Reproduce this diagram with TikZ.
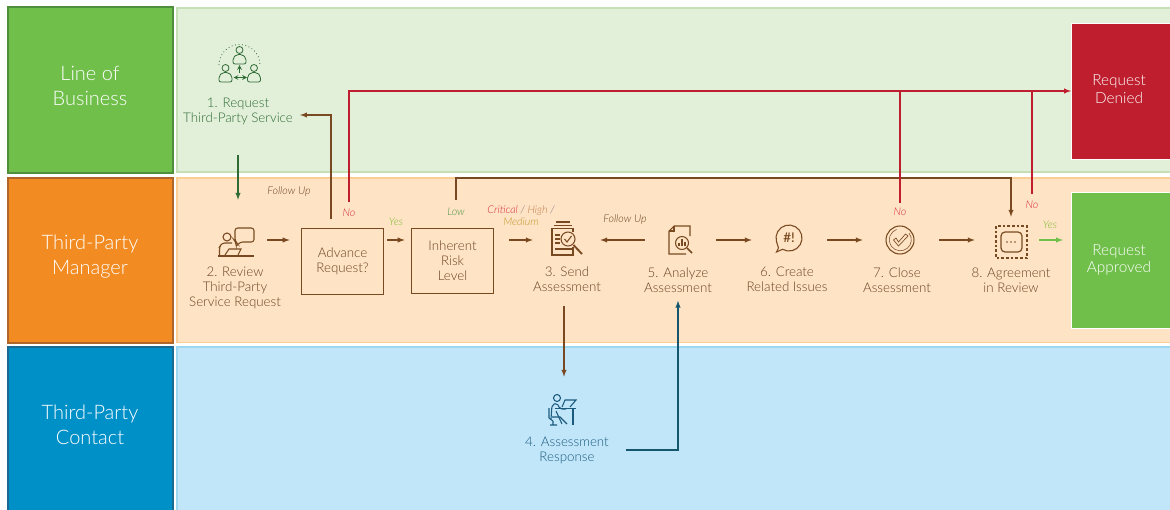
\documentclass[tikz,border=0pt]{standalone}
\usepackage{fontspec}
\setmainfont{Lato Light}[ItalicFont = Lato Light Italic]
\definecolor{lobgreen}{HTML}{70BF4B}
\definecolor{lobedge}{HTML}{4F8E3B}
\definecolor{lobpale}{HTML}{E2EFD9}
\definecolor{lobline}{HTML}{C5E0B4}
\definecolor{tpmorange}{HTML}{F28C22}
\definecolor{tpmedge}{HTML}{B0662A}
\definecolor{tpmpale}{HTML}{FEE3C5}
\definecolor{tpmline}{HTML}{FBCE94}
\definecolor{tpcblue}{HTML}{0090C8}
\definecolor{tpcedge}{HTML}{1A6A92}
\definecolor{tpcpale}{HTML}{C1E6FA}
\definecolor{tpcline}{HTML}{9DD8F2}
\definecolor{denyred}{HTML}{BE1E2D}
\definecolor{flowbrown}{HTML}{794A21}
\definecolor{textbrown}{HTML}{6A4322}
\definecolor{textgreen}{HTML}{2F6B35}
\definecolor{darkgreen}{HTML}{2F6B35}
\definecolor{flowblue}{HTML}{17566F}
\definecolor{textblue}{HTML}{1C5A7D}
\definecolor{tagred}{HTML}{D42A3C}
\definecolor{taggold}{HTML}{BF9628}
\definecolor{taggrey}{HTML}{707070}
\definecolor{tagtan}{HTML}{C07F4C}
\definecolor{tagyes}{HTML}{7DB92F}
\definecolor{taglow}{HTML}{4F9242}
\tikzset{
	lanehead/.style = {anchor = north west, line width = 1.5pt, outer sep = 0pt, inner sep = 0pt, minimum width = 124pt},
	headtext/.style = {align = center, text = white, inner sep = 0pt, font = \fontsize{15}{18.75}\selectfont},
	lanebody/.style = {anchor = north west, line width = 1pt, outer sep = 0pt, inner sep = 0pt, minimum width = 747pt},
	outcome/.style = {anchor = north west, draw = white, outer sep = 0pt, inner sep = 0pt, minimum width = 75pt, minimum height = 102pt},
	outcometext/.style = {align = center, text = white, inner sep = 0pt, font = \fontsize{11.5}{13}\selectfont},
	steplabel/.style = {align = center, inner sep = 0pt, font = \fontsize{10}{11.25}\selectfont},
	decision/.style = {steplabel, draw = flowbrown, text = textbrown, line width = 0.8pt, minimum width = 62pt, minimum height = 49pt},
	iconbox/.style = {inner sep = 0pt, minimum height = 30pt},
	tagtext/.style = {inner sep = 0pt, align = center, font = \fontsize{8}{9}\selectfont\itshape},
	flow/.style = {->, >=latex, flowbrown, line width = 0.8pt},
	denyline/.style = {denyred, line width = 0.8pt},
	icongreen/.style = {darkgreen, line width = 0.6pt},
	iconbrown/.style = {flowbrown, line width = 0.8pt},
	iconblue/.style = {textblue, line width = 0.8pt}
}
\begin{document}
\begin{tikzpicture}[x = 0.75pt, y = -0.75pt]
	\useasboundingbox (0, 0) rectangle (1170, 510);
	\clip (0, 0) rectangle (1170, 510);
	
	%	lanes
	\node[lanebody, draw = lobline, fill = lobpale, minimum height = 123pt] (lobbody) at (177, 8) {};
	\node[lanebody, draw = tpmline, fill = tpmpale, minimum height = 123.5pt] (tpmbody) at (177, 178) {};
	\node[lanebody, draw = tpcline, fill = tpcpale, minimum height = 130pt] (tpcbody) at (177, 347) {};
	\node[lanehead, draw = lobedge, fill = lobgreen, minimum height = 124pt] (lob) at (7.5, 7.5) {};
	\node[lanehead, draw = tpmedge, fill = tpmorange, minimum height = 124pt] (tpm) at (7.5, 178) {};
	\node[lanehead, draw = tpcedge, fill = tpcblue, minimum height = 130pt] (tpc) at (7.5, 347) {};
	\node[headtext] (lobtxt) at (90, 85.5) {Line of\\Business};
	\node[headtext] (tpmtxt) at (90, 257) {Third-Party\\Manager};
	\node[headtext] (tpctxt) at (90, 425) {Third-Party\\Contact};
	
	%	outcomes
	\node[outcome, fill = denyred] (denied) at (1071, 23) {};
	\node[outcome, fill = lobgreen] (approved) at (1071, 192) {};
	\node[outcometext] (deniedtxt) at (1119, 89) {Request\\Denied};
	\node[outcometext] (approvedtxt) at (1119, 260) {Request\\Approved};
	
	%	steps
	\node[steplabel, text = textgreen] (request) at (238, 111.5) {1. Request\\Third-Party Service};
	\node[steplabel, text = textbrown] (reviewtxt) at (235, 288) {2. Review\\Third-Party\\Service Request};
	\node[steplabel, text = textbrown] (sendtxt) at (567, 279) {3. Send\\Assessment};
	\node[steplabel, text = textblue] (response) at (567, 450) {4. Assessment\\Response};
	\node[steplabel, text = textbrown] (analyzetxt) at (678, 280) {5. Analyze\\Assessment};
	\node[steplabel, text = textbrown] (issuestxt) at (787, 279) {6. Create\\Related Issues};
	\node[steplabel, text = textbrown] (closetxt) at (897, 280) {7. Close\\Assessment};
	\node[steplabel, text = textbrown] (agreetxt) at (1011, 280) {8. Agreement\\in Review};
	\node[decision] (advance) at (342.5, 261.5) {Advance\\Request?};
	\node[decision] (inherent) at (452.5, 261) {Inherent\\Risk\\Level};
	
	%	icon places
	\node[iconbox, minimum width = 47.25pt, minimum height = 60pt] (reviewicon) at (235.5, 240) {};
	\node[iconbox, minimum width = 50.25pt] (sendicon) at (566.5, 240) {};
	\node[iconbox, minimum width = 53.25pt] (analyzeicon) at (680.5, 240) {};
	\node[iconbox, minimum width = 56.25pt] (issuesicon) at (789.5, 240) {};
	\node[iconbox, minimum width = 57pt] (closeicon) at (901, 240) {};
	\node[iconbox, minimum width = 42pt, minimum height = 34.5pt] (agreeicon) at (1011, 240) {};
	\node[iconbox, minimum width = 30pt, minimum height = 49.5pt] (responseicon) at (564, 410) {};
	
	%	tags
	\node[tagtext, text = textbrown] (followa) at (289, 192) {Follow Up};
	\node[tagtext, text = textbrown] (followb) at (625, 220) {Follow Up};
	\node[tagtext, text = tagred] (noadvance) at (349, 213) {No};
	\node[tagtext, text = tagyes] (yesadvance) at (396, 222) {Yes};
	\node[tagtext, text = taglow] (lowrisk) at (456, 212) {Low};
	\node[tagtext] (highrisk) at (521, 216) {\textcolor{tagred}{Critical} \textcolor{taggrey}{/} \textcolor{tagtan}{High} \textcolor{taggrey}{/}\\\textcolor{taggold}{Medium}};
	\node[tagtext, text = tagred] (noclose) at (900, 212) {No};
	\node[tagtext, text = tagred] (noagree) at (1032, 205) {No};
	\node[tagtext, text = tagyes] (yesagree) at (1050, 225) {Yes};
	
	%	rails
	\coordinate (followrail) at (331, 115);
	\coordinate (lowrail) at (456, 178);
	\coordinate (sendout) at (564, 306);
	
	%	flow
	\draw[flow, darkgreen, shorten <= 22pt] (request.south) -- (request.south |- reviewicon.north);
	\draw[flow, shorten > = 8.25pt] (reviewicon.east) -- (reviewicon.east -| advance.west);
	\draw[flow, shorten < = 6.75pt, shorten > = 5.25pt] (advance.north -| followrail) -- (followrail) -- (followrail -| request.east);
	\draw[flow, shorten < = 2.25pt, shorten > = 4.5pt] (reviewicon.east -| advance.east) -- (reviewicon.east -| inherent.west);
	\draw[flow, shorten < = 11.25pt] (reviewicon.east -| inherent.east) -- (sendicon.west);
	\draw[flow] (analyzeicon.west) -- (sendicon.east);
	\draw[flow] (analyzeicon.east) -- (issuesicon.west);
	\draw[flow] (issuesicon.east) -- (closeicon.west);
	\draw[flow, shorten > = 6pt] (closeicon.east) -- (agreeicon.west);
	\draw[flow, lobgreen, shorten > = 6pt] (agreeicon.east) -- (agreeicon.east -| approved.west);
	\draw[flow, shorten < = 6pt] (lowrisk.north) -- (lowrail) -| (agreeicon.north);
	\draw[flow] (sendout) -- (sendout |- responseicon.north);
	\draw[flow, flowblue, shorten < = 12.75pt, shorten > = 6pt] (response.east) -| (analyzetxt.south);
	
	%	denied
	\draw[denyline, ->, >=latex, shorten < = 5.25pt] (noadvance.north) |- (denied.west);
	\draw[denyline, shorten < = 3.75pt] (noclose.north) -- (noclose.north |- denied.west);
	\draw[denyline, shorten < = 5.25pt] (noagree.north) -- (noagree.north |- denied.west);
	
	%	icon 1
	\draw[icongreen, dotted] (219, 65) arc (180:360:20.5);
	\foreach \hx/\hy in {239.5/50, 225.5/68, 254/68}{
		\draw[icongreen] (\hx, \hy) circle (3.5);
		\draw[icongreen, rounded corners = 1.5pt] (\hx - 6.5, \hy + 14) -- (\hx - 6.5, \hy + 8) -- (\hx - 3, \hy + 4.5) -- (\hx + 3, \hy + 4.5) -- (\hx + 6.5, \hy + 8) -- (\hx + 6.5, \hy + 14) -- cycle;
	}
	\draw[icongreen, ->, >=stealth] (239.5, 73) -- (239.5, 65);
	\draw[icongreen, <->, >=stealth] (233.5, 77.5) -- (247, 77.5);
	
	%	icon 2
	\draw[iconbrown] (227, 237) circle (4);
	\draw[iconbrown, rounded corners = 2pt] (219.5, 255) -- (219.5, 247) -- (222, 243) -- (232, 243);
	\draw[iconbrown, rounded corners = 2pt] (235, 241) -- (235, 228) -- (254, 228) -- (254, 242) -- (240, 242) -- (236, 247) -- (236, 242) -- cycle;
	\draw[iconbrown] (225, 255) -- (229, 249) -- (241, 249) -- (238, 255);
	\draw[iconbrown] (218, 256) -- (254, 256);
	
	%	icon 3
	\draw[iconbrown] (556, 222) -- (570, 222) (554, 225.5) -- (572, 225.5);
	\draw[iconbrown] (573, 232) -- (573, 228.5) -- (552, 228.5) -- (552, 255) -- (573, 255) -- (573, 247);
	\draw[iconbrown] (555, 235) -- (560, 235) (555, 239) -- (560, 239) (555, 243) -- (560, 243);
	\draw[iconbrown, line width = 1.2pt] (555, 249) -- (572, 249);
	\draw[iconbrown] (568, 239) circle (7);
	\draw[iconbrown] (564.5, 239) -- (567, 242) -- (571.5, 236);
	\draw[iconbrown, line width = 1.4pt] (573.5, 245) -- (582, 254);
	
	%	icon 4
	\draw[iconblue] (557, 398) circle (3.5);
	\draw[iconblue, rounded corners = 1.5pt] (551, 419) -- (552, 405) -- (557, 403) -- (560, 409) -- (566, 409);
	\draw[iconblue] (552, 417) -- (560, 417) -- (567, 424);
	\draw[iconblue] (556, 411) -- (562, 424);
	\draw[iconblue] (549, 408) -- (549, 418) -- (553, 421) (553, 421) -- (553, 425) (550, 425) -- (557, 425);
	\draw[iconblue] (555, 408.5) -- (576, 408.5) (573, 408.5) -- (573, 425);
	\draw[iconblue] (562, 407) -- (565, 400) -- (576, 400) -- (570, 407);
	
	%	icon 5
	\draw[iconbrown] (690, 236) -- (690, 226) -- (674, 226) -- (669, 231) -- (669, 254) -- (686, 254);
	\draw[iconbrown] (674, 226) -- (674, 231) -- (669, 231);
	\draw[iconbrown] (682, 243) circle (6.5);
	\draw[iconbrown] (679, 246) -- (679, 243) (682, 246) -- (682, 239) (685, 246) -- (685, 241.5);
	\draw[iconbrown, line width = 1.1pt] (687, 248) -- (692, 253);
	
	%	icon 6
	\draw[iconbrown] (782.5, 249.3) arc (120:-195:13) -- (778.5, 248) -- (776.5, 252) -- cycle;
	\node[inner sep = 0pt, text = flowbrown, font = \fontsize{10}{10}\selectfont\bfseries] (issuesmark) at (789, 238) {\#!};
	
	%	icon 7
	\draw[iconbrown] (900, 240) circle (14);
	\draw[iconbrown, line width = 0.4pt] (909, 233) arc (-38:250:11);
	\draw[iconbrown, line width = 0.5pt] (893.5, 240) -- (898.5, 246) -- (908, 236) -- (905.5, 234) -- (898.5, 242) -- (896, 238) -- cycle;
	
	%	icon 8
	\draw[iconbrown, dash pattern = on 2pt off 1.5pt, line width = 1.5pt] (996, 226) rectangle (1027, 258);
	\draw[iconbrown, rounded corners = 3pt, line width = 0.9pt] (1001, 232) rectangle (1022, 252);
	\foreach \dx in {1007, 1011, 1015}{
		\fill[flowbrown] (\dx, 242) circle (0.8);
	}
\end{tikzpicture}
\end{document}
